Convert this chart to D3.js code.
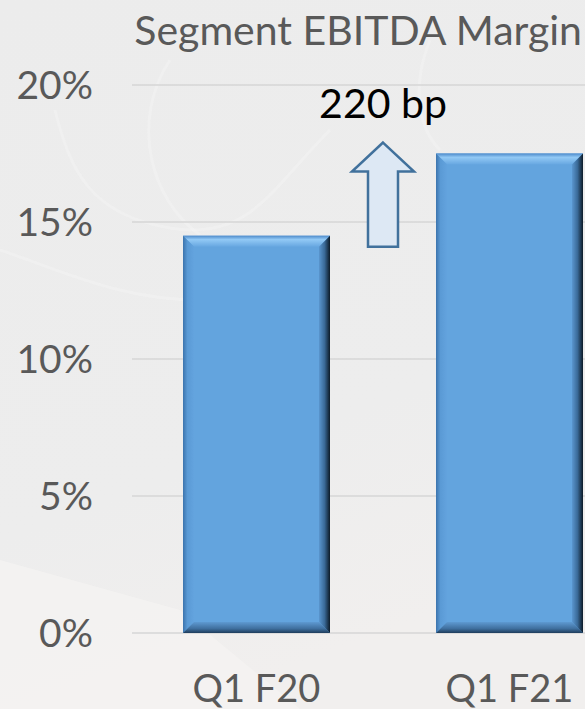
<!DOCTYPE html>
<html>
<head>
<meta charset="utf-8">
<script src="https://d3js.org/d3.v7.min.js"></script>
<style>
  body { margin: 0; background: #ededed; }
  svg { display: block; }
</style>
</head>
<body>
<svg width="585" height="709"></svg>
<script>
// the data
var categories = ["Q1 F20", "Q1 F21"];
var margins = [14.5, 17.5];
var yTicks = [0, 5, 10, 15, 20];
var title = "Segment EBITDA Margin";
var changeLabel = "220 bp";
// arrow annotation runs between these two margin levels
var arrowFrom = [14.1];
var arrowTo = [17.9];

var svg = d3.select("svg"),
    width = 585,
    height = 709;

var font = "Lato, 'Open Sans', sans-serif";

// scales
var y = d3.scaleLinear().domain([0, 20]).range([633, 85]);
var x = d3.scaleBand()
    .domain(categories)
    .range([130, 636])
    .paddingInner(0.419)
    .paddingOuter(0.2095);

var defs = svg.append("defs");

// background (light grey with a few faint streaks)
var bg = defs.append("linearGradient").attr("id", "bg")
    .attr("x1", 0).attr("y1", 0).attr("x2", 0.3).attr("y2", 1);
bg.append("stop").attr("offset", 0).attr("stop-color", "#ececec");
bg.append("stop").attr("offset", 0.7).attr("stop-color", "#ededed");
bg.append("stop").attr("offset", 1).attr("stop-color", "#f1efee");
svg.append("rect").attr("width", width).attr("height", height).attr("fill", "url(#bg)");

svg.append("path")
    .attr("d", "M0,560 L180,610 L300,709 L0,709 Z")
    .attr("fill", "#f5f3f2").attr("opacity", 0.7);
var streaks = ["M55,110 C70,170 90,215 170,228 S270,190 330,130",
               "M170,60 C130,120 150,200 200,235",
               "M0,250 C60,270 120,300 200,300",
               "M430,40 C410,90 420,130 440,150"];
svg.append("g").selectAll("path")
    .data(streaks)
    .enter().append("path")
    .attr("d", function(d) { return d; })
    .attr("fill", "none")
    .attr("stroke", "#f7f7f7")
    .attr("stroke-width", 3)
    .attr("opacity", 0.3);

// gridlines
svg.append("g")
    .selectAll("line")
    .data(yTicks)
    .enter().append("line")
    .attr("x1", 132).attr("x2", width)
    .attr("y1", function(d) { return y(d); })
    .attr("y2", function(d) { return y(d); })
    .attr("stroke", "#d6d6d6")
    .attr("stroke-width", 1.5);

// y tick labels
svg.append("g")
    .selectAll("text")
    .data(yTicks)
    .enter().append("text")
    .attr("x", 93)
    .attr("y", function(d) { return y(d) + 14; })
    .attr("text-anchor", "end")
    .attr("font-family", font)
    .attr("font-size", 39)
    .attr("fill", "#595959")
    .text(function(d) { return d + "%"; });

// bevel gradients
function grad(id, x2, y2, stops) {
  var g = defs.append("linearGradient").attr("id", id)
      .attr("x1", 0).attr("y1", 0).attr("x2", x2).attr("y2", y2);
  stops.forEach(function(s) {
    g.append("stop").attr("offset", s[0]).attr("stop-color", s[1]);
  });
}
grad("bvTop", 0, 1, [[0, "#4e8bcb"], [0.35, "#92c9f5"], [1, "#67a7e1"]]);
grad("bvRight", 1, 0, [[0, "#5a96cf"], [0.5, "#3a6a98"], [1, "#0c1a27"]]);
grad("bvBottom", 0, 1, [[0, "#5e9ad2"], [0.6, "#3f6f9e"], [1, "#1f3d5c"]]);
grad("bvLeft", 1, 0, [[0, "#3c74ad"], [0.4, "#5a9ad5"], [1, "#63a3de"]]);

var b = 11;  // bevel size
var bars = svg.append("g")
    .selectAll("g")
    .data(categories.map(function(c, i) { return {cat: c, value: margins[i]}; }))
    .enter().append("g");

bars.append("rect")
    .attr("x", function(d) { return x(d.cat); })
    .attr("y", function(d) { return y(d.value); })
    .attr("width", x.bandwidth())
    .attr("height", function(d) { return y(0) - y(d.value); })
    .attr("fill", "#63a4de");

function facet(fn, fill) {
  bars.append("polygon")
      .attr("points", function(d) {
        var x0 = x(d.cat), x1 = x0 + x.bandwidth(), y0 = y(d.value), y1 = y(0);
        return fn(x0, x1, y0, y1).map(function(p) { return p.join(","); }).join(" ");
      })
      .attr("fill", fill);
}
facet(function(x0, x1, y0, y1) { return [[x0, y0], [x1, y0], [x1 - b, y0 + b], [x0 + b, y0 + b]]; }, "url(#bvTop)");
facet(function(x0, x1, y0, y1) { return [[x0, y0], [x0 + b, y0 + b], [x0 + b, y1 - b], [x0, y1]]; }, "url(#bvLeft)");
facet(function(x0, x1, y0, y1) { return [[x0, y1], [x0 + b, y1 - b], [x1 - b, y1 - b], [x1, y1]]; }, "url(#bvBottom)");
facet(function(x0, x1, y0, y1) { return [[x1, y0], [x1, y1], [x1 - b, y1 - b], [x1 - b, y0 + b]]; }, "url(#bvRight)");

// x labels
svg.append("g")
    .selectAll("text")
    .data(categories)
    .enter().append("text")
    .attr("x", function(d) { return x(d) + x.bandwidth() / 2; })
    .attr("y", 702)
    .attr("text-anchor", "middle")
    .attr("font-family", font)
    .attr("font-size", 38)
    .attr("fill", "#595959")
    .text(function(d) { return d; });

// up arrow between the bars
var ax = (x(categories[0]) + x.bandwidth() + x(categories[1])) / 2;
var tipY = y(arrowTo[0]), baseY = y(arrowFrom[0]);
var headH = 29, headW = 31, shaftW = 15;
var arrowPts = [[ax, tipY], [ax + headW, tipY + headH], [ax + shaftW, tipY + headH],
                [ax + shaftW, baseY], [ax - shaftW, baseY], [ax - shaftW, tipY + headH],
                [ax - headW, tipY + headH]];
svg.append("polygon")
    .attr("points", arrowPts.map(function(p) { return p.join(","); }).join(" "))
    .attr("fill", "#dde8f4")
    .attr("stroke", "#41719c")
    .attr("stroke-width", 2.5)
    .attr("stroke-linejoin", "miter");

svg.append("text")
    .attr("x", ax)
    .attr("y", 118)
    .attr("text-anchor", "middle")
    .attr("font-family", font)
    .attr("font-size", 41)
    .attr("fill", "#000")
    .text(changeLabel);

// title
svg.append("text")
    .attr("x", 582)
    .attr("y", 45)
    .attr("text-anchor", "end")
    .attr("font-family", font)
    .attr("font-size", 41)
    .attr("fill", "#595959")
    .text(title);
</script>
</body>
</html>
